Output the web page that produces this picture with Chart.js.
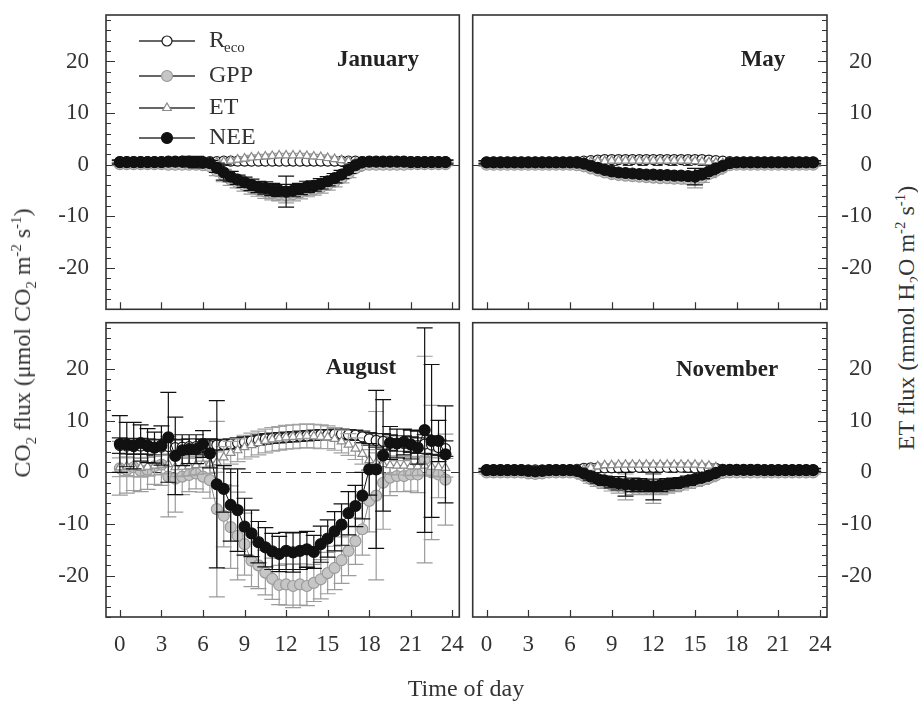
<!DOCTYPE html>
<html>
<head>
<meta charset="utf-8">
<title>CO2 and ET flux, diurnal course</title>
<script src="https://cdn.jsdelivr.net/npm/chart.js@4.4.0/dist/chart.umd.min.js"></script>
<style>
  body { margin: 0; background: #fff; }
  #fig { position: relative; width: 918px; height: 702px; font-family: "Liberation Serif", "Times New Roman", serif; color: #333; }
  #fig canvas { position: absolute; }
  .title { position: absolute; white-space: nowrap; font-size: 24px; line-height: 1; }
  .rot { transform: translate(-50%, -50%) rotate(-90deg); }
  .title sub, .title sup { font-size: 0.62em; line-height: 0; }
</style>
</head>
<body>
<div id="fig">
  <canvas id="jan" width="466" height="316" style="left:0;top:0"></canvas>
  <canvas id="may" width="412" height="316" style="left:466px;top:0"></canvas>
  <canvas id="aug" width="466" height="386" style="left:0;top:316px"></canvas>
  <canvas id="nov" width="412" height="386" style="left:466px;top:316px"></canvas>
  <div class="title rot" style="left:22px;top:343px">CO<sub>2</sub> flux (μmol CO<sub>2</sub> m<sup>-2</sup> s<sup>-1</sup>)</div>
  <div class="title rot" style="left:906px;top:318px">ET flux (mmol H<sub>2</sub>O m<sup>-2</sup> s<sup>-1</sup>)</div>
  <div class="title" style="left:466px;top:688px;transform:translate(-50%,-50%)">Time of day</div>
</div>
<script>
// half-hourly time of day
const HOURS = [
  0, 0.5, 1, 1.5, 2, 2.5, 3, 3.5, 4, 4.5, 5, 5.5,
  6, 6.5, 7, 7.5, 8, 8.5, 9, 9.5, 10, 10.5, 11, 11.5,
  12, 12.5, 13, 13.5, 14, 14.5, 15, 15.5, 16, 16.5, 17, 17.5,
  18, 18.5, 19, 19.5, 20, 20.5, 21, 21.5, 22, 22.5, 23, 23.5
];
const HOUR_TICKS = [0, 3, 6, 9, 12, 15, 18, 21, 24];
const FLUX_TICKS = [-20, -10, 0, 10, 20];
const SERIES = ["Reco", "GPP", "ET", "NEE"];

// ---- January ----
const RECO_JAN = [
  0.6, 0.6, 0.6, 0.6, 0.6, 0.6, 0.6, 0.6, 0.6, 0.6, 0.6, 0.6,
  0.6, 0.6, 0.6, 0.7, 0.7, 0.7, 0.7, 0.7, 0.7, 0.7, 0.7, 0.7,
  0.7, 0.7, 0.7, 0.7, 0.7, 0.7, 0.7, 0.7, 0.7, 0.7, 0.7, 0.6,
  0.6, 0.6, 0.6, 0.6, 0.6, 0.6, 0.6, 0.6, 0.6, 0.6, 0.6, 0.6
];
const GPP_JAN = [
  0.1, 0.1, 0.1, 0.1, 0.1, 0.1, 0.1, 0.0, 0.0, 0.0, 0.0, 0.0,
  -0.1, -0.3, -1.2, -2.1, -2.9, -3.5, -4.0, -4.5, -4.9, -5.2, -5.5, -5.7,
  -5.9, -5.7, -5.4, -5.0, -4.8, -4.4, -3.9, -3.3, -2.6, -1.7, -0.7, -0.1,
  0.0, 0.0, 0.0, 0.0, 0.0, 0.0, 0.1, 0.1, 0.1, 0.1, 0.1, 0.1
];
const ET_JAN = [
  0.3, 0.3, 0.3, 0.3, 0.3, 0.3, 0.3, 0.3, 0.3, 0.3, 0.3, 0.3,
  0.3, 0.3, 0.4, 0.6, 0.8, 1.0, 1.2, 1.4, 1.5, 1.6, 1.7, 1.8,
  1.8, 1.8, 1.8, 1.7, 1.6, 1.5, 1.3, 1.1, 0.9, 0.7, 0.5, 0.4,
  0.3, 0.3, 0.3, 0.3, 0.3, 0.3, 0.3, 0.3, 0.3, 0.3, 0.3, 0.3
];
const NEE_JAN = [
  0.5, 0.5, 0.5, 0.5, 0.5, 0.5, 0.5, 0.6, 0.6, 0.6, 0.6, 0.5,
  0.4, 0.3, -0.6, -1.5, -2.3, -2.9, -3.4, -3.9, -4.3, -4.5, -4.8, -5.0,
  -5.2, -5.0, -4.7, -4.3, -4.1, -3.7, -3.2, -2.6, -1.9, -1.0, -0.1, 0.5,
  0.6, 0.6, 0.6, 0.6, 0.6, 0.6, 0.5, 0.5, 0.5, 0.5, 0.5, 0.5
];
const RECO_JAN_ERR = [
  0.3, 0.3, 0.3, 0.3, 0.3, 0.3, 0.3, 0.3, 0.3, 0.3, 0.3, 0.3,
  0.3, 0.3, 0.3, 0.4, 0.4, 0.4, 0.4, 0.4, 0.4, 0.4, 0.4, 0.4,
  0.4, 0.4, 0.4, 0.4, 0.4, 0.4, 0.4, 0.4, 0.4, 0.4, 0.3, 0.3,
  0.3, 0.3, 0.3, 0.3, 0.3, 0.3, 0.3, 0.3, 0.3, 0.3, 0.3, 0.3
];
const GPP_JAN_ERR = [
  0.3, 0.3, 0.3, 0.3, 0.3, 0.3, 0.3, 0.3, 0.3, 0.3, 0.4, 0.4,
  0.4, 0.5, 0.9, 1.2, 1.1, 1.0, 1.1, 1.2, 1.2, 1.3, 1.3, 1.3,
  1.5, 1.3, 1.2, 1.2, 1.1, 1.1, 1.0, 1.0, 0.9, 0.8, 0.6, 0.4,
  0.3, 0.3, 0.3, 0.3, 0.3, 0.3, 0.3, 0.3, 0.3, 0.3, 0.3, 0.3
];
const ET_JAN_ERR = [
  0.2, 0.2, 0.2, 0.2, 0.2, 0.2, 0.2, 0.2, 0.2, 0.2, 0.2, 0.2,
  0.2, 0.2, 0.2, 0.3, 0.3, 0.3, 0.3, 0.4, 0.4, 0.4, 0.4, 0.4,
  0.4, 0.4, 0.4, 0.4, 0.4, 0.4, 0.3, 0.3, 0.3, 0.3, 0.2, 0.2,
  0.2, 0.2, 0.2, 0.2, 0.2, 0.2, 0.2, 0.2, 0.2, 0.2, 0.2, 0.2
];
const NEE_JAN_ERR = [
  0.4, 0.4, 0.4, 0.4, 0.4, 0.4, 0.4, 0.4, 0.5, 0.6, 1.0, 1.1,
  0.5, 0.5, 0.9, 1.5, 1.0, 0.9, 1.0, 1.1, 1.1, 1.2, 1.2, 1.2,
  3.0, 1.2, 1.1, 1.1, 1.0, 1.0, 0.9, 0.9, 0.8, 0.7, 0.5, 0.4,
  0.4, 0.4, 0.4, 0.4, 0.4, 0.4, 0.4, 0.4, 0.4, 0.4, 0.4, 0.4
];

// ---- May ----
const RECO_MAY = [
  0.5, 0.5, 0.5, 0.5, 0.5, 0.5, 0.5, 0.5, 0.5, 0.5, 0.5, 0.5,
  0.5, 0.6, 0.7, 0.8, 0.9, 1.0, 1.0, 1.0, 1.0, 1.0, 1.0, 1.0,
  1.0, 1.0, 1.0, 1.0, 1.0, 1.0, 1.0, 1.0, 0.9, 0.8, 0.7, 0.6,
  0.5, 0.5, 0.5, 0.5, 0.5, 0.5, 0.5, 0.5, 0.5, 0.5, 0.5, 0.5
];
const GPP_MAY = [
  0.0, 0.0, 0.0, 0.0, 0.0, 0.0, 0.0, 0.0, 0.0, 0.0, 0.0, 0.0,
  0.0, -0.1, -0.3, -0.7, -1.1, -1.5, -1.8, -2.0, -2.1, -2.2, -2.3, -2.4,
  -2.5, -2.6, -2.6, -2.7, -2.7, -2.8, -2.9, -2.5, -1.8, -1.2, -0.6, -0.1,
  0.0, 0.0, 0.0, 0.0, 0.0, 0.0, 0.0, 0.0, 0.0, 0.0, 0.0, 0.0
];
const ET_MAY = [
  0.2, 0.2, 0.2, 0.2, 0.2, 0.2, 0.2, 0.2, 0.2, 0.2, 0.2, 0.2,
  0.3, 0.4, 0.5, 0.6, 0.7, 0.7, 0.8, 0.8, 0.8, 0.8, 0.8, 0.8,
  0.8, 0.8, 0.8, 0.8, 0.8, 0.8, 0.7, 0.6, 0.5, 0.4, 0.3, 0.3,
  0.2, 0.2, 0.2, 0.2, 0.2, 0.2, 0.2, 0.2, 0.2, 0.2, 0.2, 0.2
];
const NEE_MAY = [
  0.45, 0.45, 0.45, 0.45, 0.45, 0.45, 0.45, 0.45, 0.45, 0.45, 0.45, 0.45,
  0.45, 0.4, 0.2, -0.2, -0.6, -1.0, -1.3, -1.5, -1.6, -1.7, -1.8, -1.9,
  -1.9, -2.0, -2.0, -2.1, -2.1, -2.2, -2.3, -1.9, -1.3, -0.7, -0.2, 0.3,
  0.45, 0.45, 0.45, 0.45, 0.45, 0.45, 0.45, 0.45, 0.45, 0.45, 0.45, 0.45
];
const RECO_MAY_ERR = [
  0.3, 0.3, 0.3, 0.3, 0.3, 0.3, 0.3, 0.3, 0.3, 0.3, 0.3, 0.3,
  0.3, 0.3, 0.3, 0.3, 0.3, 0.3, 0.3, 0.3, 0.3, 0.3, 0.3, 0.3,
  0.3, 0.3, 0.3, 0.3, 0.3, 0.3, 0.3, 0.3, 0.3, 0.3, 0.3, 0.3,
  0.3, 0.3, 0.3, 0.3, 0.3, 0.3, 0.3, 0.3, 0.3, 0.3, 0.3, 0.3
];
const GPP_MAY_ERR = [
  0.3, 0.3, 0.3, 0.3, 0.3, 0.3, 0.3, 0.3, 0.3, 0.3, 0.3, 0.3,
  0.3, 0.3, 0.4, 0.5, 0.5, 0.6, 0.6, 0.6, 0.6, 0.6, 0.7, 0.7,
  0.7, 0.7, 0.7, 0.8, 0.8, 0.9, 1.6, 0.9, 0.7, 0.6, 0.5, 0.4,
  0.3, 0.3, 0.3, 0.3, 0.3, 0.3, 0.3, 0.3, 0.3, 0.3, 0.3, 0.3
];
const ET_MAY_ERR = [
  0.2, 0.2, 0.2, 0.2, 0.2, 0.2, 0.2, 0.2, 0.2, 0.2, 0.2, 0.2,
  0.2, 0.2, 0.2, 0.3, 0.3, 0.3, 0.3, 0.3, 0.3, 0.3, 0.3, 0.3,
  0.3, 0.3, 0.3, 0.3, 0.3, 0.3, 0.3, 0.3, 0.3, 0.2, 0.2, 0.2,
  0.2, 0.2, 0.2, 0.2, 0.2, 0.2, 0.2, 0.2, 0.2, 0.2, 0.2, 0.2
];
const NEE_MAY_ERR = [
  0.3, 0.3, 0.3, 0.3, 0.3, 0.3, 0.3, 0.3, 0.3, 0.3, 0.3, 0.3,
  0.3, 0.3, 0.4, 0.4, 0.5, 0.5, 0.5, 0.5, 0.6, 0.6, 0.6, 0.6,
  0.6, 0.6, 0.6, 0.7, 0.7, 0.8, 1.6, 0.8, 0.6, 0.5, 0.4, 0.3,
  0.3, 0.3, 0.3, 0.3, 0.3, 0.3, 0.3, 0.3, 0.3, 0.3, 0.3, 0.3
];

// ---- August ----
const RECO_AUG = [
  5.2, 5.1, 5.0, 5.1, 5.0, 4.8, 4.9, 5.0, 4.8, 4.9, 5.0, 5.0,
  5.1, 5.2, 5.3, 5.4, 5.5, 5.7, 5.9, 6.1, 6.3, 6.5, 6.6, 6.7,
  6.8, 6.9, 7.0, 7.1, 7.2, 7.3, 7.3, 7.4, 7.4, 7.3, 7.2, 6.9,
  6.5, 6.2, 6.0, 5.8, 5.6, 5.6, 5.4, 5.2, 5.5, 5.3, 4.8, 4.6
];
const GPP_AUG = [
  0.8, 0.5, 1.0, 0.3, 0.5, 1.2, 1.5, -0.8, -1.2, -0.8, -0.5, -0.2,
  -0.8, -1.5, -7.1, -8.4, -10.6, -12.3, -13.9, -17.1, -18.0, -19.4, -20.6, -21.8,
  -21.7, -22.0, -21.7, -22.0, -21.4, -20.7, -19.5, -18.5, -17.0, -15.2, -13.3, -11.0,
  -5.5, -4.5, -2.0, -1.0, -0.7, -0.7, -0.4, -0.4, 2.5, 0.0, -0.4, -1.4
];
const ET_AUG = [
  1.0, 1.2, 1.0, 0.9, 1.1, 1.3, 1.5, 1.6, 1.0, 1.1, 1.2, 1.4,
  1.5, 1.7, 2.0, 2.9, 3.8, 4.3, 4.9, 5.3, 5.7, 6.1, 6.4, 6.6,
  6.8, 6.9, 7.0, 7.1, 7.0, 6.9, 6.8, 6.5, 6.0, 5.4, 4.6, 3.6,
  2.4, 1.9, 1.6, 1.4, 1.3, 1.3, 1.2, 1.2, 1.3, 1.1, 1.0, 0.9
];
const NEE_AUG = [
  5.5, 5.4, 5.2, 5.7, 5.2, 4.8, 5.2, 6.8, 3.2, 4.3, 4.5, 4.5,
  5.5, 3.7, -2.3, -3.2, -6.3, -7.3, -10.5, -11.8, -13.5, -14.5, -15.3, -15.8,
  -15.2, -15.5, -15.2, -14.9, -15.4, -13.9, -12.8, -11.4, -10.1, -7.9, -6.5, -4.5,
  0.6, 0.6, 3.3, 5.7, 5.6, 5.9, 5.4, 4.8, 8.2, 6.1, 6.1, 3.5
];
const RECO_AUG_ERR = [
  1.5, 1.5, 1.5, 1.5, 1.5, 1.5, 1.5, 1.5, 1.5, 1.5, 1.5, 1.5,
  1.3, 1.2, 1.0, 1.0, 1.0, 1.0, 1.0, 1.0, 1.0, 1.0, 1.0, 1.0,
  1.0, 1.0, 1.0, 1.0, 1.0, 1.0, 1.0, 1.0, 1.0, 1.0, 1.0, 1.1,
  1.2, 1.3, 1.5, 1.5, 1.5, 1.5, 1.5, 1.5, 1.8, 1.8, 1.5, 1.5
];
const GPP_AUG_ERR = [
  5.2, 4.5, 4.5, 4.0, 3.8, 3.5, 4.0, 7.8, 6.5, 3.5, 3.2, 3.0,
  3.0, 3.5, 17.0, 6.0, 8.0, 8.5, 6.0, 5.0, 4.5, 4.3, 4.0, 3.8,
  4.0, 4.2, 4.0, 3.8, 3.6, 3.8, 4.0, 4.2, 4.5, 4.8, 4.5, 5.0,
  6.0, 16.3, 9.0, 3.5, 3.0, 3.0, 3.2, 3.5, 20.0, 13.0, 4.5, 8.8
];
const ET_AUG_ERR = [
  1.8, 1.8, 1.8, 1.8, 1.8, 1.8, 1.8, 1.8, 1.8, 1.8, 1.8, 1.8,
  1.8, 1.9, 2.0, 2.1, 2.2, 2.2, 2.3, 2.3, 2.3, 2.3, 2.3, 2.3,
  2.3, 2.3, 2.3, 2.3, 2.3, 2.3, 2.2, 2.2, 2.2, 2.1, 2.1, 2.0,
  2.0, 1.9, 1.8, 1.8, 1.8, 1.8, 1.8, 1.8, 1.8, 1.8, 1.8, 1.8
];
const NEE_AUG_ERR = [
  5.5, 4.3, 4.5, 3.5, 3.3, 3.0, 3.8, 8.7, 7.5, 3.0, 2.8, 2.8,
  2.6, 2.8, 16.2, 4.5, 7.0, 8.0, 5.5, 4.5, 4.0, 3.8, 3.5, 3.4,
  3.6, 3.8, 3.6, 3.5, 3.2, 3.5, 3.6, 3.8, 4.0, 4.2, 4.0, 4.5,
  5.0, 15.3, 10.8, 3.2, 2.8, 2.5, 2.8, 3.2, 19.8, 14.8, 4.0, 9.4
];

// ---- November ----
const RECO_NOV = [
  0.5, 0.5, 0.5, 0.5, 0.5, 0.5, 0.5, 0.5, 0.5, 0.5, 0.5, 0.5,
  0.5, 0.6, 0.8, 0.9, 0.9, 0.9, 0.9, 0.9, 0.9, 1.0, 1.0, 1.0,
  1.0, 1.0, 1.0, 1.0, 1.0, 1.0, 0.9, 0.9, 0.9, 0.8, 0.6, 0.5,
  0.5, 0.5, 0.5, 0.5, 0.5, 0.5, 0.5, 0.5, 0.5, 0.5, 0.5, 0.5
];
const GPP_NOV = [
  0.0, 0.0, 0.0, 0.0, 0.0, 0.0, -0.2, -0.3, -0.2, 0.0, 0.0, 0.0,
  0.0, -0.1, -0.7, -1.3, -1.8, -2.1, -2.4, -2.6, -2.8, -2.9, -2.9, -3.0,
  -3.2, -3.0, -2.8, -2.6, -2.4, -2.1, -1.8, -1.5, -1.1, -0.6, -0.1, 0.0,
  0.0, 0.0, 0.0, 0.0, 0.0, 0.0, 0.0, 0.0, 0.0, 0.0, 0.0, 0.0
];
const ET_NOV = [
  0.3, 0.3, 0.3, 0.3, 0.3, 0.3, 0.3, 0.3, 0.3, 0.3, 0.3, 0.3,
  0.3, 0.4, 0.6, 0.9, 1.2, 1.4, 1.4, 1.5, 1.5, 1.5, 1.5, 1.5,
  1.5, 1.5, 1.5, 1.5, 1.5, 1.5, 1.5, 1.4, 1.3, 1.0, 0.6, 0.4,
  0.3, 0.3, 0.3, 0.3, 0.3, 0.3, 0.3, 0.3, 0.3, 0.3, 0.3, 0.3
];
const NEE_NOV = [
  0.45, 0.45, 0.45, 0.45, 0.45, 0.45, 0.3, 0.2, 0.3, 0.45, 0.45, 0.45,
  0.45, 0.3, -0.2, -0.8, -1.3, -1.6, -1.9, -2.1, -2.3, -2.4, -2.4, -2.5,
  -2.7, -2.5, -2.3, -2.1, -1.9, -1.6, -1.3, -1.0, -0.6, -0.1, 0.45, 0.5,
  0.5, 0.5, 0.5, 0.5, 0.45, 0.45, 0.45, 0.45, 0.45, 0.45, 0.45, 0.45
];
const RECO_NOV_ERR = [
  0.3, 0.3, 0.3, 0.3, 0.3, 0.3, 0.3, 0.3, 0.3, 0.3, 0.3, 0.3,
  0.3, 0.3, 0.3, 0.3, 0.3, 0.3, 0.3, 0.3, 0.3, 0.3, 0.3, 0.3,
  0.3, 0.3, 0.3, 0.3, 0.3, 0.3, 0.3, 0.3, 0.3, 0.3, 0.3, 0.3,
  0.3, 0.3, 0.3, 0.3, 0.3, 0.3, 0.3, 0.3, 0.3, 0.3, 0.3, 0.3
];
const GPP_NOV_ERR = [
  0.3, 0.3, 0.3, 0.3, 0.3, 0.3, 0.6, 0.8, 0.6, 0.3, 0.3, 0.3,
  0.3, 0.4, 0.6, 0.8, 0.9, 1.0, 1.2, 1.4, 2.5, 1.4, 1.3, 1.3,
  2.8, 1.3, 1.2, 1.1, 1.0, 1.0, 0.9, 0.8, 0.7, 0.5, 0.4, 0.3,
  0.3, 0.3, 0.3, 0.3, 0.3, 0.3, 0.3, 0.3, 0.3, 0.3, 0.3, 0.3
];
const ET_NOV_ERR = [
  0.2, 0.2, 0.2, 0.2, 0.2, 0.2, 0.2, 0.2, 0.2, 0.2, 0.2, 0.2,
  0.2, 0.2, 0.3, 0.3, 0.3, 0.3, 0.3, 0.3, 0.3, 0.3, 0.3, 0.3,
  0.3, 0.3, 0.3, 0.3, 0.3, 0.3, 0.3, 0.3, 0.3, 0.3, 0.2, 0.2,
  0.2, 0.2, 0.2, 0.2, 0.2, 0.2, 0.2, 0.2, 0.2, 0.2, 0.2, 0.2
];
const NEE_NOV_ERR = [
  0.3, 0.3, 0.3, 0.3, 0.3, 0.3, 0.5, 0.7, 0.5, 0.3, 0.3, 0.3,
  0.3, 0.4, 0.5, 0.7, 0.8, 0.9, 1.1, 1.3, 2.3, 1.3, 1.2, 1.2,
  2.6, 1.2, 1.1, 1.0, 0.9, 0.9, 0.8, 0.7, 0.6, 0.5, 0.4, 0.3,
  0.3, 0.3, 0.3, 0.3, 0.3, 0.3, 0.3, 0.3, 0.3, 0.3, 0.3, 0.3
];

const MONTHS = {
  jan: { label: "January", Reco: RECO_JAN, GPP: GPP_JAN, ET: ET_JAN, NEE: NEE_JAN,
         RecoErr: RECO_JAN_ERR, GPPErr: GPP_JAN_ERR, ETErr: ET_JAN_ERR, NEEErr: NEE_JAN_ERR },
  may: { label: "May", Reco: RECO_MAY, GPP: GPP_MAY, ET: ET_MAY, NEE: NEE_MAY,
         RecoErr: RECO_MAY_ERR, GPPErr: GPP_MAY_ERR, ETErr: ET_MAY_ERR, NEEErr: NEE_MAY_ERR },
  aug: { label: "August", Reco: RECO_AUG, GPP: GPP_AUG, ET: ET_AUG, NEE: NEE_AUG,
         RecoErr: RECO_AUG_ERR, GPPErr: GPP_AUG_ERR, ETErr: ET_AUG_ERR, NEEErr: NEE_AUG_ERR },
  nov: { label: "November", Reco: RECO_NOV, GPP: GPP_NOV, ET: ET_NOV, NEE: NEE_NOV,
         RecoErr: RECO_NOV_ERR, GPPErr: GPP_NOV_ERR, ETErr: ET_NOV_ERR, NEEErr: NEE_NOV_ERR }
};

// marker / line look per series (NEE drawn on top, GPP at the bottom)
const LOOK = {
  Reco: { shape: "circle", r: 5, fill: "#ffffff", edge: "#1a1a1a", line: "#333333", bar: "#222222", order: 2 },
  GPP:  { shape: "circle", r: 5.5, fill: "#c6c6c6", edge: "#9a9a9a", line: "#8a8a8a", bar: "#9c9c9c", order: 3 },
  ET:   { shape: "triangle", r: 5, fill: "#ffffff", edge: "#8a8a8a", line: "#555555", bar: "#a2a2a2", order: 1 },
  NEE:  { shape: "circle", r: 5.5, fill: "#111111", edge: "#111111", line: "#111111", bar: "#111111", order: 0 }
};

const SERIF = '"Liberation Serif", "Times New Roman", serif';
Chart.defaults.font.family = SERIF;
Chart.defaults.color = "#333";

// error bars under each dataset's own markers
const errorBars = {
  id: "errorBars",
  beforeDatasetDraw(chart, args) {
    const ds = chart.data.datasets[args.index];
    if (!ds.err) return;
    const { ctx, scales: { x, y } } = chart;
    ctx.save();
    ctx.strokeStyle = ds.barColor;
    ctx.lineWidth = 1.2;
    ctx.beginPath();
    ds.data.forEach((p, i) => {
      const e = ds.err[i];
      if (!e) return;
      const px = x.getPixelForValue(p.x);
      const top = y.getPixelForValue(p.y + e);
      const bot = y.getPixelForValue(p.y - e);
      ctx.moveTo(px, top); ctx.lineTo(px, bot);
      ctx.moveTo(px - 8, top); ctx.lineTo(px + 8, top);
      ctx.moveTo(px - 8, bot); ctx.lineTo(px + 8, bot);
    });
    ctx.stroke();
    ctx.restore();
  }
};

// box, inward ticks and zero line
const frame = {
  id: "frame",
  beforeDatasetsDraw(chart, args, opts) {
    const { ctx, chartArea: a, scales: { x, y } } = chart;
    ctx.save();
    ctx.strokeStyle = "#333";
    ctx.lineWidth = 1;
    ctx.setLineDash([10, 5]);
    const y0 = Math.round(y.getPixelForValue(0)) + 0.5;
    ctx.beginPath(); ctx.moveTo(a.left, y0); ctx.lineTo(a.right, y0); ctx.stroke();
    ctx.setLineDash([]);
    ctx.lineWidth = 1.2;
    ctx.beginPath();
    HOUR_TICKS.forEach(v => {
      const px = Math.round(x.getPixelForValue(v)) + 0.5;
      ctx.moveTo(px, a.bottom); ctx.lineTo(px, a.bottom - 7);
    });
    const edge = opts.side === "left" ? a.left : a.right;
    const dir = opts.side === "left" ? 1 : -1;
    for (let v = -28; v <= 28; v += 2) {
      const py = Math.round(y.getPixelForValue(v)) + 0.5;
      const len = v % 10 === 0 ? 9 : 5;
      ctx.moveTo(edge, py); ctx.lineTo(edge + dir * len, py);
    }
    ctx.stroke();
    ctx.lineWidth = 1.6;
    ctx.strokeRect(a.left, a.top, a.width, a.height);
    ctx.restore();
  },
  afterDatasetsDraw(chart, args, opts) {
    const ctx = chart.ctx;
    ctx.save();
    ctx.font = "bold 23px " + SERIF;
    ctx.fillStyle = "#222";
    ctx.textAlign = "center";
    ctx.textBaseline = "middle";
    ctx.fillText(opts.label, opts.lx, opts.ly);
    ctx.restore();
  }
};

function drawMarker(ctx, look, cx, cy) {
  ctx.fillStyle = look.fill;
  ctx.strokeStyle = look.edge;
  ctx.lineWidth = 1.2;
  ctx.beginPath();
  if (look.shape === "triangle") {
    ctx.moveTo(cx, cy - look.r);
    ctx.lineTo(cx + look.r * 0.866, cy + look.r * 0.5);
    ctx.lineTo(cx - look.r * 0.866, cy + look.r * 0.5);
    ctx.closePath();
  } else {
    ctx.arc(cx, cy, look.r, 0, Math.PI * 2);
  }
  ctx.fill();
  ctx.stroke();
}

// legend in the January panel
const keyBox = {
  id: "keyBox",
  afterDatasetsDraw(chart, args, opts) {
    if (!opts.show) return;
    const ctx = chart.ctx;
    const rows = [41, 76, 108, 138];
    ctx.save();
    SERIES.forEach((name, i) => {
      const look = LOOK[name];
      const cy = rows[i];
      ctx.strokeStyle = "#333";
      ctx.lineWidth = 1.3;
      ctx.beginPath(); ctx.moveTo(139, cy); ctx.lineTo(195, cy); ctx.stroke();
      drawMarker(ctx, look, 167, cy);
      ctx.fillStyle = "#333";
      ctx.textBaseline = "middle";
      ctx.textAlign = "left";
      ctx.font = "24px " + SERIF;
      if (name === "Reco") {
        ctx.fillText("R", 209, cy);
        const w = ctx.measureText("R").width;
        ctx.font = "15px " + SERIF;
        ctx.fillText("eco", 209 + w - 1, cy + 7);
      } else {
        ctx.fillText(name, 209, cy);
      }
    });
    ctx.restore();
  }
};

function makePanel(id, opt) {
  const m = MONTHS[id];
  const datasets = SERIES.map(name => {
    const look = LOOK[name];
    return {
      label: name,
      data: HOURS.map((h, i) => ({ x: h, y: m[name][i] })),
      err: m[name + "Err"],
      barColor: look.bar,
      order: look.order,
      borderColor: look.line,
      borderWidth: 1,
      pointStyle: look.shape,
      pointRadius: look.r,
      pointBackgroundColor: look.fill,
      pointBorderColor: look.edge,
      pointBorderWidth: 1.2,
      tension: 0
    };
  });
  const left = opt.side === "left";
  new Chart(document.getElementById(id), {
    type: "line",
    data: { datasets },
    plugins: [errorBars, frame, keyBox],
    options: {
      responsive: false,
      animation: false,
      events: [],
      layout: { padding: opt.pad },
      plugins: {
        legend: { display: false },
        tooltip: { enabled: false },
        frame: { side: opt.side, label: m.label, lx: opt.lx, ly: opt.ly },
        keyBox: { show: !!opt.key }
      },
      scales: {
        x: {
          type: "linear",
          min: -1,
          max: 24.5,
          grid: { display: false, drawTicks: false },
          border: { display: false },
          afterBuildTicks: s => { s.ticks = HOUR_TICKS.map(v => ({ value: v })); },
          ticks: { display: opt.bottom, padding: 14, maxRotation: 0, autoSkip: false,
                   font: { size: 23 }, color: "#333" },
          afterFit: s => {
            s.height = opt.bottom ? 50 : 6;
            s.paddingLeft = 0; s.paddingRight = 0;
          }
        },
        y: {
          type: "linear",
          position: opt.side,
          min: -28,
          max: 29,
          grid: { display: false, drawTicks: false },
          border: { display: false },
          afterBuildTicks: s => { s.ticks = FLUX_TICKS.map(v => ({ value: v })); },
          ticks: { padding: left ? 17 : 0, crossAlign: left ? "near" : "far",
                   font: { size: 23 }, color: "#333" },
          afterFit: s => {
            s.width = left ? 106 : 45;
            s.paddingTop = 0; s.paddingBottom = 0;
          }
        }
      }
    }
  });
}

makePanel("jan", { side: "left", bottom: false, key: true,
  pad: { top: 15, right: 5, left: 0, bottom: 0 }, lx: 378, ly: 60 });
makePanel("may", { side: "right", bottom: false,
  pad: { top: 15, right: 6, left: 6, bottom: 0 }, lx: 297, ly: 60 });
makePanel("aug", { side: "left", bottom: true,
  pad: { top: 6, right: 5, left: 0, bottom: 35 }, lx: 361, ly: 52 });
makePanel("nov", { side: "right", bottom: true,
  pad: { top: 6, right: 6, left: 6, bottom: 35 }, lx: 261, ly: 54 });
</script>
</body>
</html>
